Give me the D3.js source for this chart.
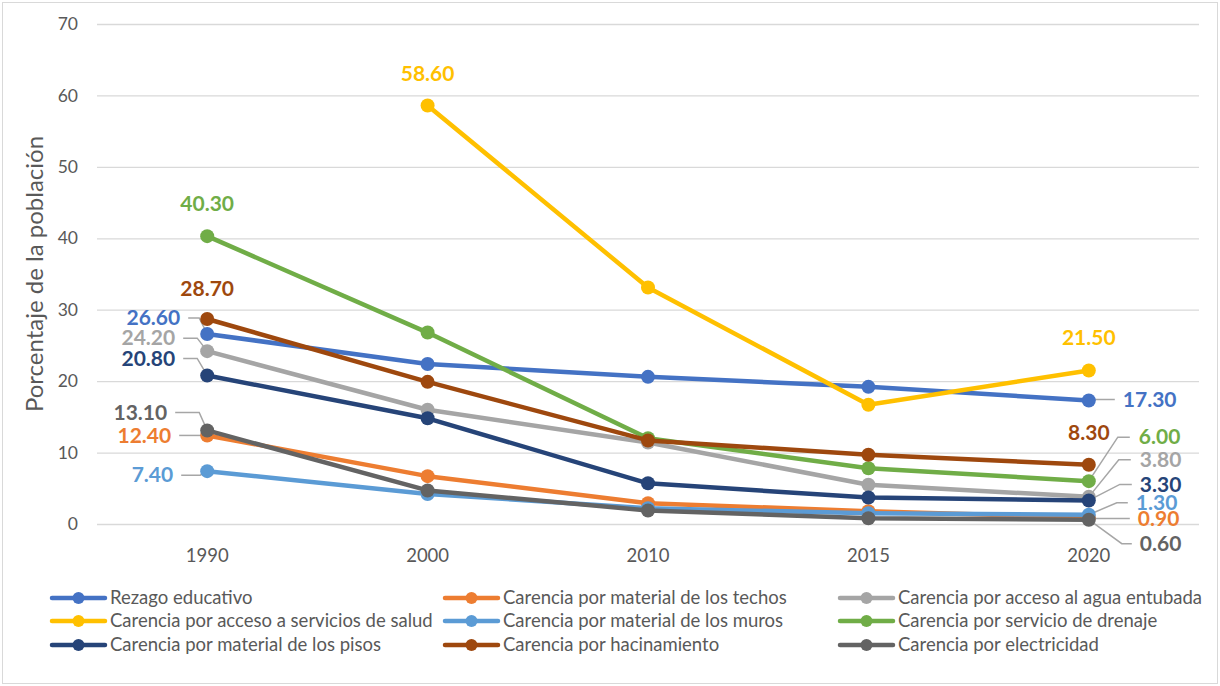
<!DOCTYPE html>
<html>
<head>
<meta charset="utf-8">
<script src="https://cdn.jsdelivr.net/npm/d3@7"></script>
<style>
  html, body { margin: 0; padding: 0; background: #ffffff; }
  svg { display: block; font-family: Lato, "Open Sans", sans-serif; }
</style>
</head>
<body>
<svg id="chart" width="1220" height="686"></svg>
<script>
// Years on the horizontal axis
const years = ["1990", "2000", "2010", "2015", "2020"];
const yTicks = [0, 10, 20, 30, 40, 50, 60, 70];

// Percentage of the population for each indicator
const rezagoEducativo   = [26.6, 22.4, 20.6, 19.2, 17.3];
const techos            = [12.4, 6.7, 2.9, 1.8, 0.9];
const aguaEntubada      = [24.2, 16.0, 11.4, 5.5, 3.8];
const serviciosSalud    = [null, 58.6, 33.1, 16.7, 21.5];
const muros             = [7.4, 4.2, 2.2, 1.5, 1.3];
const drenaje           = [40.3, 26.8, 12.0, 7.8, 6.0];
const pisos             = [20.8, 14.8, 5.7, 3.7, 3.3];
const hacinamiento      = [28.7, 19.9, 11.7, 9.7, 8.3];
const electricidad      = [13.1, 4.7, 1.9, 0.8, 0.6];

const seriesNames = [
  "Rezago educativo",
  "Carencia por material de los techos",
  "Carencia por acceso al agua entubada",
  "Carencia por acceso a servicios de salud",
  "Carencia por material de los muros",
  "Carencia por servicio de drenaje",
  "Carencia por material de los pisos",
  "Carencia por hacinamiento",
  "Carencia por electricidad"
];
const seriesValues = [rezagoEducativo, techos, aguaEntubada, serviciosSalud, muros,
                      drenaje, pisos, hacinamiento, electricidad];
const seriesColors = ["#4472C4", "#ED7D31", "#A5A5A5", "#FFC000", "#5B9BD5",
                      "#70AD47", "#264478", "#9E480E", "#636363"];

// Where each end-point label sits relative to its marker (offsets in px).
// side: "top" = centred above, "left" = right-aligned to the left, "right" = left-aligned to the right.
// knee / end: x offsets of the leader line bend and of its end near the text.
const labelLayout = [
  { s: 0, i: 0, side: "left",  dx: -27, dy: -16, knee: -8 },
  { s: 0, i: 4, side: "right", dx: 34,  dy: -1,  knee: 0, end: 26 },
  { s: 1, i: 0, side: "left",  dx: -36, dy: 0,   knee: -7 },
  { s: 1, i: 4, side: "right", dx: 49,  dy: 1,   knee: 0, end: 41 },
  { s: 2, i: 0, side: "left",  dx: -32, dy: -13, knee: -10 },
  { s: 2, i: 4, side: "right", dx: 51,  dy: -37, knee: 30, end: 42 },
  { s: 3, i: 1, side: "top",   dy: -32 },
  { s: 3, i: 4, side: "top",   dy: -33 },
  { s: 4, i: 0, side: "left",  dx: -34, dy: 4,   knee: -7 },
  { s: 4, i: 4, side: "right", dx: 47,  dy: -12, knee: 28, end: 39 },
  { s: 5, i: 0, side: "top",   dy: -32 },
  { s: 5, i: 4, side: "right", dx: 50,  dy: -44, knee: 29, end: 41 },
  { s: 6, i: 0, side: "left",  dx: -32, dy: -17, knee: -10 },
  { s: 6, i: 4, side: "right", dx: 51,  dy: -16, knee: 31, end: 43 },
  { s: 7, i: 0, side: "top",   dy: -30 },
  { s: 7, i: 4, side: "top",   dy: -32 },
  { s: 8, i: 0, side: "left",  dx: -40, dy: -18, knee: -8 },
  { s: 8, i: 4, side: "right", dx: 51,  dy: 24,  knee: 33, end: 43 }
];

const svg = d3.select("#chart");
const W = 1220, H = 686;
const plot = { left: 97, right: 1199, top: 24, bottom: 524 };

// Chart frame
svg.append("rect")
  .attr("x", 2.5).attr("y", 2.5)
  .attr("width", W - 5).attr("height", H - 5)
  .attr("fill", "#ffffff").attr("stroke", "#d9d9d9").attr("stroke-width", 1);

const x = d3.scaleBand().domain(years).range([plot.left, plot.right]).padding(0);
const cx = d => x(d) + x.bandwidth() / 2;
const y = d3.scaleLinear().domain([0, 70]).range([plot.bottom, plot.top]);

// Horizontal gridlines and value axis
const yAxis = svg.append("g")
  .attr("transform", `translate(${plot.left},0)`)
  .call(d3.axisLeft(y).tickValues(yTicks).tickSize(-(plot.right - plot.left)).tickPadding(19));
yAxis.select(".domain").remove();
yAxis.selectAll(".tick line").attr("stroke", "#d9d9d9").attr("stroke-width", 1.3);
yAxis.selectAll(".tick text")
  .attr("fill", "#595959").style("font-size", "17.5px").style("font-family", "Lato, sans-serif");

// Category axis labels
const xAxis = svg.append("g")
  .attr("transform", `translate(0,${plot.bottom})`)
  .call(d3.axisBottom(x).tickSize(0).tickPadding(25));
xAxis.select(".domain").remove();
xAxis.selectAll(".tick text")
  .attr("fill", "#595959").style("font-size", "18.5px").style("font-family", "Lato, sans-serif");

// Axis title
svg.append("text")
  .attr("transform", `translate(35,${(plot.top + plot.bottom) / 2}) rotate(-90)`)
  .attr("text-anchor", "middle").attr("dy", "0.35em")
  .attr("fill", "#595959").style("font-size", "24px")
  .text("Porcentaje de la población");

// Lines and markers
const line = d3.line()
  .defined(d => d.v !== null)
  .x(d => cx(d.year))
  .y(d => y(d.v));

const seriesData = seriesNames.map((name, s) => ({
  name, color: seriesColors[s],
  points: years.map((year, i) => ({ year, v: seriesValues[s][i] }))
}));

// Leader lines go under the markers
const leaderLayer = svg.append("g");
const seriesLayer = svg.append("g");
const labelLayer = svg.append("g");

seriesData.forEach(sd => {
  const g = seriesLayer.append("g");
  g.append("path")
    .datum(sd.points)
    .attr("d", line)
    .attr("fill", "none")
    .attr("stroke", sd.color)
    .attr("stroke-width", 4.5)
    .attr("stroke-linejoin", "round")
    .attr("stroke-linecap", "round");
  g.selectAll("circle")
    .data(sd.points.filter(p => p.v !== null))
    .join("circle")
    .attr("cx", p => cx(p.year))
    .attr("cy", p => y(p.v))
    .attr("r", 7)
    .attr("fill", sd.color);
});

// End-point value labels with leader lines
labelLayout.forEach(L => {
  const v = seriesValues[L.s][L.i];
  const px = cx(years[L.i]);
  const py = y(v);
  const color = seriesColors[L.s];
  let tx = px, anchor = "middle";
  if (L.side === "left") {
    tx = px + L.dx; anchor = "end";
    const ly = py + L.dy;
    leaderLayer.append("path")
      .attr("d", d3.line()([[tx + 8, ly], [px + L.knee, ly], [px, py]]))
      .attr("fill", "none").attr("stroke", "#a6a6a6").attr("stroke-width", 1.5);
  } else if (L.side === "right") {
    tx = px + L.dx; anchor = "start";
    const ly = py + L.dy;
    leaderLayer.append("path")
      .attr("d", d3.line()([[px, py], [px + L.knee, ly], [px + L.end, ly]]))
      .attr("fill", "none").attr("stroke", "#a6a6a6").attr("stroke-width", 1.5);
  }
  labelLayer.append("text")
    .attr("x", tx)
    .attr("y", py + L.dy)
    .attr("dy", "0.35em")
    .attr("text-anchor", anchor)
    .attr("fill", color)
    .style("font-size", "21px")
    .style("font-weight", "bold")
    .text(d3.format(".2f")(v));
});

// Legend: three columns, filled row by row
const legendCols = [50, 443, 838];
const legendRows = [598, 621, 645];
const legend = svg.append("g");
seriesData.forEach((sd, k) => {
  const lx = legendCols[k % 3];
  const ly = legendRows[Math.floor(k / 3)];
  const g = legend.append("g").attr("transform", `translate(${lx},${ly})`);
  g.append("line")
    .attr("x1", 2).attr("x2", 55).attr("y1", 0).attr("y2", 0)
    .attr("stroke", sd.color).attr("stroke-width", 4.5).attr("stroke-linecap", "round");
  g.append("circle").attr("cx", 28.5).attr("cy", 0).attr("r", 6).attr("fill", sd.color);
  g.append("text")
    .attr("x", 60).attr("dy", "0.35em")
    .attr("fill", "#595959").style("font-size", "18.5px")
    .text(sd.name);
});
</script>
</body>
</html>
